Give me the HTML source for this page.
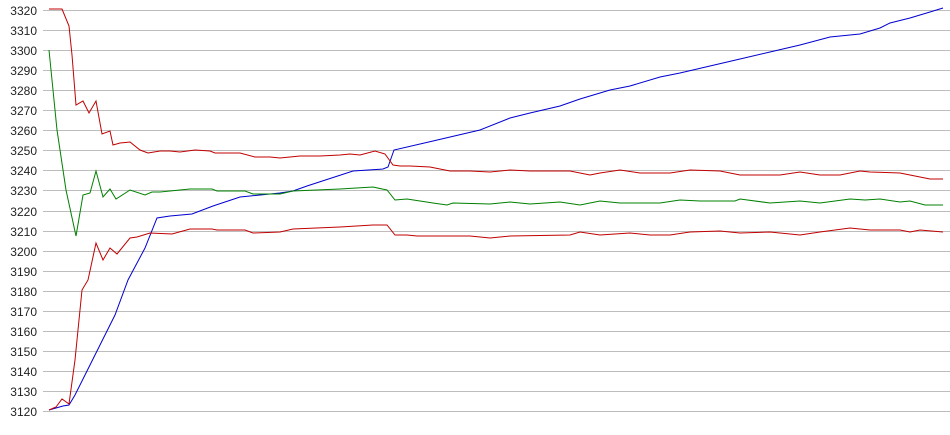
<!DOCTYPE html>
<html><head><meta charset="utf-8"><style>body{margin:0;background:#fff}svg{display:block}</style></head><body>
<svg width="950" height="435" xmlns="http://www.w3.org/2000/svg" font-family="Liberation Sans, sans-serif" font-size="12">
<g id="grid" stroke="#bdbdbd" stroke-width="1"></g>
<g id="lab" fill="#222" text-anchor="end"></g>
<polyline fill="none" stroke="#0000d0" stroke-width="1" points="49,410 63,406 69,405 75,395 85,375 100,345 115,315 128,280 145,248 157,218 170,216 192,214 213,206 240,197 280,193 293,191 307,186 353,171 383,169 388,167 394,150 433,141 480,130 510,118 530,113 560,106 580,99 610,90 630,86 660,77 680,73 710,66 740,59 770,52 800,45 830,37 860,34 880,28 890,23 910,18 930,12 943,8"/>
<polyline fill="none" stroke="#c00000" stroke-width="1" points="49,9 62,9 69,26 72,55 76,105 83,101 89,113 96,101 102,134 110,131 113,145 120,143 130,142 140,150 148,153 160,151 170,151 180,152 195,150 210,151 215,153 240,153 255,157 270,157 280,158 300,156 320,156 340,155 350,154 360,155 375,151 385,154 393,165 400,166 410,166 430,167 450,171 470,171 490,172 510,170 530,171 570,171 590,175 600,173 620,170 640,173 670,173 690,170 720,171 740,175 780,175 800,172 820,175 840,175 860,171 870,172 900,173 910,175 930,179 943,179"/>
<polyline fill="none" stroke="#008000" stroke-width="1" points="49,50 57,130 66,190 76,236 83,195 90,193 96,171 103,197 110,189 116,199 130,190 145,195 152,192 160,192 190,189 212,189 217,191 245,191 253,194 280,194 293,191 340,189 373,187 387,190 395,200 407,199 420,201 433,203 447,205 453,203 490,204 510,202 530,204 560,202 580,205 600,201 620,203 660,203 680,200 700,201 735,201 740,199 770,203 800,201 820,203 850,199 865,200 880,199 900,202 910,201 925,205 943,205"/>
<polyline fill="none" stroke="#c00000" stroke-width="1" points="49,410 56,407 62,399 69,404 75,360 82,290 88,280 96,243 103,260 110,248 117,254 130,238 137,237 150,233 172,234 190,229 212,229 217,230 245,230 253,233 280,232 293,229 340,227 373,225 387,225 395,235 407,235 417,236 470,236 490,238 510,236 570,235 580,232 600,235 630,233 650,235 670,235 690,232 720,231 740,233 770,232 800,235 820,232 850,228 870,230 900,230 910,232 920,230 943,232"/>
<script>
var g=document.getElementById('grid'),l=document.getElementById('lab'),ns='http://www.w3.org/2000/svg';
for(var i=0;i<=20;i++){var y=Math.round(10+i*20.05)+0.5;
var ln=document.createElementNS(ns,'line');ln.setAttribute('x1',43);ln.setAttribute('x2',950);ln.setAttribute('y1',y);ln.setAttribute('y2',y);g.appendChild(ln);
var t=document.createElementNS(ns,'text');t.setAttribute('x',37);t.setAttribute('y',y+4.5);t.textContent=3320-i*10;l.appendChild(t);}
</script>
</svg>
</body></html>
